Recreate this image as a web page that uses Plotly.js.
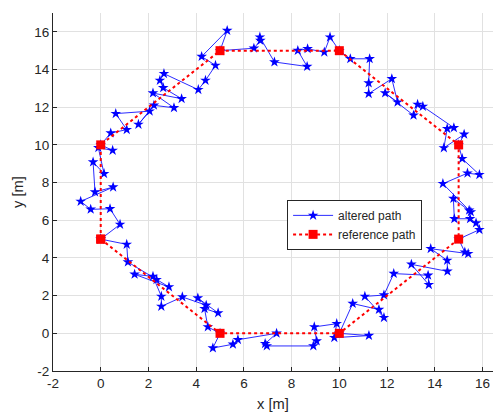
<!DOCTYPE html>
<html>
<head>
<meta charset="utf-8">
<script src="https://cdn.plot.ly/plotly-3.0.1.min.js"></script>
<style>
  html, body { margin: 0; padding: 0; background: #ffffff; }
  #chart { width: 498px; height: 416px; }
</style>
</head>
<body>
<div id="chart"></div>
<script>
// Reference waypoints (closed octagon)
const refX = [0, 0, 5, 10, 15, 15, 10, 5, 0];
const refY = [5, 10, 15, 15, 10, 5, 0, 0, 5];

// Altered (noisy) path
const altX = [
  0.00, 1.09, 1.14, 2.34, 2.86, 1.42, 2.19, 2.54, 2.54, 3.42, 4.42, 4.07, 4.92, 4.35, 4.49, 5.00,
  4.70, 5.54, 5.75, 7.37, 6.89, 6.96, 8.91, 9.05, 8.95, 9.89, 9.79, 11.24, 10.00,
  10.56, 11.66, 11.87, 11.07, 11.87, 12.28, 13.72, 13.75, 13.02, 14.53, 14.52, 13.83, 15.40, 15.26, 15.00,
  15.87, 15.73, 15.48, 14.82, 14.78, 15.51, 15.44, 14.34, 15.37, 15.87, 15.15, 15.00,
  15.23, 14.38, 14.52, 14.80, 13.50, 13.28, 13.11, 11.92, 12.44, 12.20, 11.23, 11.23, 11.27, 10.46, 10.00,
  9.61, 9.37, 8.67, 8.26, 8.65, 7.28, 6.67, 6.69, 6.42, 5.00,
  5.30, 4.23, 4.81, 4.39, 4.09, 2.65, 2.48, 2.62, 3.39, 2.19, 3.07, 2.23, 1.58, 2.05, 0.63, 1.09, 0.42, 0.00,
  0.50, -0.10, 0.14, -0.32, -0.24, 0.52, -0.84, -0.42, 0.39, 0.81, 0.00
];
const altY = [
  5.00, 4.72, 3.78, 2.85, 2.46, 3.13, 3.02, 1.96, 1.43, 1.93, 1.49, 1.87, 1.08, 1.31, 0.34, 0.00,
  -0.78, -0.58, -0.34, 0.00, -0.55, -0.67, -0.67, -0.41, 0.34, 0.51, -0.23, -0.12, 0.00,
  1.58, 1.26, 0.83, 1.96, 2.03, 3.17, 3.08, 2.58, 3.66, 3.29, 3.87, 4.49, 4.23, 4.31, 5.00,
  5.50, 5.85, 6.08, 6.08, 7.15, 6.44, 6.53, 7.94, 8.50, 8.42, 9.27, 10.00,
  10.56, 9.84, 10.86, 10.91, 12.04, 12.15, 11.57, 12.75, 12.27, 13.51, 12.72, 13.28, 14.57, 14.57, 15.00,
  15.72, 14.92, 15.10, 15.01, 14.16, 14.40, 15.72, 15.54, 15.13, 15.00,
  16.07, 14.69, 14.22, 13.42, 12.93, 13.78, 13.42, 13.03, 12.45, 12.75, 11.97, 12.10, 11.09, 11.79, 11.66, 10.81, 10.63, 10.00,
  9.71, 9.85, 8.47, 9.09, 7.50, 7.76, 7.00, 6.58, 6.61, 5.78, 5.00
];

const xTicks = [-2, 0, 2, 4, 6, 8, 10, 12, 14, 16];
const yTicks = [-2, 0, 2, 4, 6, 8, 10, 12, 14, 16];

const axisColor = '#262626';
const gridColor = '#e1e1e1';
const fontFamily = 'Arial, "Liberation Sans", Helvetica, sans-serif';

const traces = [
  {
    x: altX, y: altY,
    type: 'scatter', mode: 'lines+markers',
    name: 'altered path',
    line: { color: 'rgb(20,20,255)', width: 0.9 },
    marker: { symbol: 'star', size: 8, color: 'rgb(0,0,255)', line: { width: 0 } }
  },
  {
    x: refX, y: refY,
    type: 'scatter', mode: 'lines+markers',
    name: 'reference path',
    line: { color: 'rgb(255,0,0)', width: 2, dash: 'dot' },
    marker: { symbol: 'square', size: 9, color: 'rgb(255,0,0)' }
  }
];

const axisCommon = {
  showline: true, linecolor: axisColor, linewidth: 1, mirror: false,
  ticks: 'inside', ticklen: 4, tickcolor: axisColor, tickwidth: 1,
  showgrid: true, gridcolor: gridColor, gridwidth: 1,
  zeroline: false,
  tickfont: { family: fontFamily, size: 13.5, color: axisColor },
  tickmode: 'array'
};

const layout = {
  width: 498, height: 416,
  margin: { l: 53, r: 5, t: 13, b: 45 },
  paper_bgcolor: '#ffffff', plot_bgcolor: '#ffffff',
  font: { family: fontFamily, size: 13.5, color: axisColor },
  showlegend: true,
  legend: {
    x: 0.532, y: 0.478, xanchor: 'left', yanchor: 'top',
    bgcolor: '#ffffff', bordercolor: axisColor, borderwidth: 1,
    font: { family: fontFamily, size: 12, color: axisColor },
    itemwidth: 40,
    tracegroupgap: 0
  },
  xaxis: Object.assign({}, axisCommon, {
    range: [-2, 16.44], tickvals: xTicks, ticktext: xTicks.map(String),
    title: { text: 'x [m]', font: { family: fontFamily, size: 14.7, color: axisColor }, standoff: 8 }
  }),
  yaxis: Object.assign({}, axisCommon, {
    range: [-2, 17], tickvals: yTicks, ticktext: yTicks.map(String),
    title: { text: 'y [m]', font: { family: fontFamily, size: 14.7, color: axisColor }, standoff: 7 }
  })
};

Plotly.newPlot('chart', traces, layout, { displayModeBar: false, staticPlot: true });
</script>
</body>
</html>
